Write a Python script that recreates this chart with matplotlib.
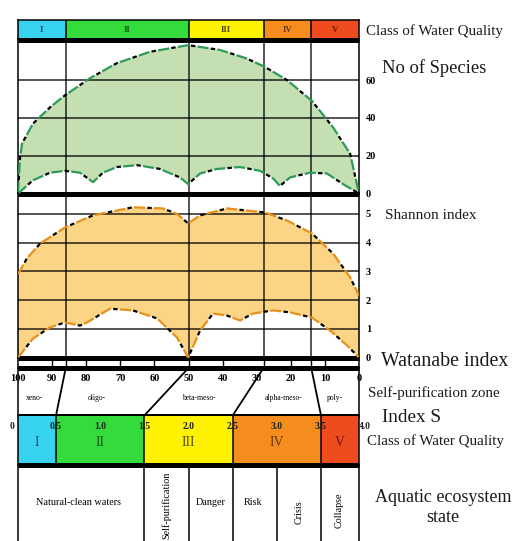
import numpy as np
import matplotlib.pyplot as plt
from matplotlib.patches import ConnectionPatch

plt.rcParams['font.family'] = ['Liberation Serif', 'DejaVu Serif']

# water quality classes
class_names = ['I', 'II', 'III', 'IV', 'V']
class_colors = ['#36d2f0', '#33dc3a', '#fff200', '#f58c1e', '#ee4b1e']
class_text = ['#1d4a6e', '#1c561c', '#55500a', '#6a3a0c', '#6a1a0c']
top_edges = [100, 86, 50, 28, 14, 0]        # self-purification scale
s_edges = [0, 0.5, 1.5, 2.5, 3.5, 4.0]      # index S scale

# No of species (upper / lower envelope)
sp_up_x = [100, 99.4, 98.8, 95.6, 90.6, 86.2, 78.9, 71, 61.3, 50.1, 40.8, 33, 27.6, 21.1, 13.8, 7.6, 2.6, 0]
sp_up_y = [0, 19, 26.5, 37, 45.6, 52, 61, 69, 75, 78.5, 76, 71.5, 67, 60, 49, 35, 21, 0]
sp_lo_x = [100, 95.6, 90.6, 86.2, 81.8, 78, 75.1, 71, 65.1, 58.4, 52.5, 50.1, 46.6, 41.6, 34.9, 29, 25.2,
           23.2, 20.2, 14.4, 9.4, 4.7, 0]
sp_lo_y = [0, 7, 11, 12, 11, 6, 11, 14, 15, 13, 8.5, 5, 10.6, 13, 14, 12, 8, 4, 8.5, 11, 10.6, 5, 0]

# Shannon index (upper / lower envelope)
sh_up_x = [100, 97.4, 93.5, 86.2, 78, 66.3, 57.5, 53.4, 50.1, 46.6, 38.7, 27.6, 21.1, 13.8, 7.6, 2.6, 0]
sh_up_y = [2.9, 3.45, 3.97, 4.53, 4.95, 5.23, 5.19, 5.0, 4.67, 4.95, 5.19, 5.05, 4.77, 4.32, 3.62, 2.79, 2.16]
sh_lo_x = [100, 95.6, 90.6, 86.2, 81.8, 79.8, 73, 66.3, 59.2, 53.4, 50.1, 46.6, 42.8, 38.7, 34.9, 31.1,
           25.2, 20.2, 13.8, 8.5, 3.5, 0]
sh_lo_y = [0, 0.66, 1.05, 1.22, 1.11, 1.22, 1.7, 1.64, 1.36, 0.7, 0, 0.94, 1.53, 1.46, 1.29, 1.53,
           1.64, 1.57, 1.39, 0.94, 0.42, 0]

# self-purification zone
zone_ticks = [100, 90, 80, 70, 60, 50, 40, 30, 20, 10, 0]
wat_ticks = [90, 86, 80, 70, 60, 50, 40, 28, 20, 14, 10]
zone_names = ['xeno-', 'oligo-', 'beta-meso-', 'alpha-meso-', 'poly-']
zone_pos = [95, 77, 47, 22, 7]

# index S labels
s_ticks = [0, 0.5, 1.0, 1.5, 2.0, 2.5, 3.0, 3.5, 4.0]
s_labels = ['0', '0.5', '1.0', '1.5', '2.0', '2.5', '3.0', '3.5', '4.0']
s_lim = (0.07, 3.93)

# aquatic ecosystem state
eco_edges = [1.5, 2.0, 2.5, 3.0, 3.5]
eco_names = ['Natural-clean waters', 'Self-purification', 'Danger', 'Risk', 'Crisis', 'Collapse']
eco_pos = [0.75, 1.75, 2.25, 2.73, 3.25, 3.71]
eco_rot = [0, 90, 0, 0, 90, 90]
eco_y = [0.6, 0.57, 0.6, 0.6, 0.5, 0.52]

W, H = 513, 541
fig = plt.figure(figsize=(W / 100, H / 100), dpi=100)


def rect(top, bottom):
    return [18 / W, 1 - bottom / H, 341 / W, (bottom - top) / H]


def frame(ax, bottom=3.6, top=0):
    ax.set_facecolor('none')  # so the thick lines are not covered by the next panel
    ax.set_xticks([])
    ax.set_yticks([])
    for s in ['left', 'right']:
        ax.spines[s].set_linewidth(1.1)
    ax.spines['bottom'].set_linewidth(bottom)
    ax.spines['bottom'].set_capstyle('butt')
    if top:
        ax.spines['top'].set_linewidth(top)
    else:
        ax.spines['top'].set_visible(False)


def curve(ax, x, y, col):
    ax.plot(x, y, color=col, lw=1.6, ls=(0, (5, 4)), zorder=4)
    ax.plot(x, y, color='k', lw=1.6, ls=(3, (2, 7)), zorder=4)


# top class bar
ax_bar = fig.add_axes(rect(20, 39.5))
for i in range(5):
    ax_bar.axvspan(top_edges[i], top_edges[i + 1], color=class_colors[i], lw=0)
    ax_bar.text((top_edges[i] + top_edges[i + 1]) / 2, 0.5, class_names[i], ha='center', va='center',
                fontsize=6.5, fontweight='bold', color=class_text[i])
for e in top_edges[1:-1]:
    ax_bar.axvline(e, color='k', lw=1.1)
ax_bar.set_xlim(100, 0)
ax_bar.set_ylim(0, 1)
frame(ax_bar, top=1.1)

# No of species
ax_sp = fig.add_axes(rect(39.5, 193.5))
ax_sp.fill(sp_up_x + sp_lo_x[::-1], sp_up_y + sp_lo_y[::-1], color='#c4e0b2', lw=0, zorder=1)
curve(ax_sp, sp_up_x, sp_up_y, '#2e9a58')
curve(ax_sp, sp_lo_x, sp_lo_y, '#2e9a58')
ax_sp.set_xlim(100, 0)
ax_sp.set_ylim(0, 81.5)
frame(ax_sp)
ax_sp.set_yticks([0, 20, 40, 60])
ax_sp.yaxis.grid(True, color='k', lw=1.1, alpha=0.85)
ax_sp.set_axisbelow(False)

# Shannon index
ax_sh = fig.add_axes(rect(193.5, 357.5))
ax_sh.fill(sh_up_x + sh_lo_x[::-1], sh_up_y + sh_lo_y[::-1], color='#fbd486', lw=0, zorder=1)
curve(ax_sh, sh_up_x, sh_up_y, '#e8901c')
curve(ax_sh, sh_lo_x, sh_lo_y, '#e8901c')
ax_sh.set_xlim(100, 0)
ax_sh.set_ylim(0, 5.71)
frame(ax_sh)
ax_sh.set_yticks([0, 1, 2, 3, 4, 5])
ax_sh.yaxis.grid(True, color='k', lw=1.1, alpha=0.85)

for ax in [ax_sp, ax_sh]:
    for e in top_edges[1:-1]:
        ax.axvline(e, color='k', lw=1.1, alpha=0.85, zorder=2)
    ax.yaxis.tick_right()
    ax.tick_params(axis='y', length=0, pad=5, labelsize=7.5)
    for t in ax.get_yticklabels():
        t.set_fontweight('bold')

# Watanabe strip
ax_wat = fig.add_axes(rect(357.5, 368))
for t in wat_ticks:
    ax_wat.axvline(t, color='k', lw=1.0)
ax_wat.set_xlim(100, 0)
frame(ax_wat)

# self-purification zone
ax_zone = fig.add_axes(rect(368, 415.5))
ax_zone.set_xlim(100, 0)
ax_zone.set_ylim(0, 1)
frame(ax_zone)
tr = ax_zone.get_xaxis_transform()
for t in zone_ticks:
    ax_zone.text(t, 0.77, str(t), transform=tr, ha='center', va='center', fontsize=7.5,
                 fontweight='bold', clip_on=False)
for name, p in zip(zone_names, zone_pos):
    ax_zone.text(p, 0.37, name, transform=tr, ha='center', va='center', fontsize=5.5)

# bottom class bar (index S)
ax_cls = fig.add_axes(rect(415.5, 464.5))
for i in range(5):
    lo = max(s_edges[i], s_lim[0])
    hi = min(s_edges[i + 1], s_lim[1])
    ax_cls.axvspan(lo, hi, color=class_colors[i], lw=0)
    ax_cls.text((lo + hi) / 2, 0.44, class_names[i], ha='center', va='center', fontsize=10,
                color=class_text[i])
for e in s_edges[1:-1]:
    ax_cls.axvline(e, color='k', lw=1.1)
for t, lab in zip(s_ticks, s_labels):
    ax_cls.text(t, 0.78, lab, ha='center', va='center', fontsize=7, fontweight='bold',
                color='#222222', clip_on=False)
ax_cls.set_xlim(*s_lim)
ax_cls.set_ylim(0, 1)
frame(ax_cls)

# slanted lines linking the zones to the classes
for a, b in zip(top_edges[1:-1], s_edges[1:-1]):
    con = ConnectionPatch(xyA=(a, 1), coordsA=ax_zone.get_xaxis_transform(),
                          xyB=(b, 1), coordsB=ax_cls.get_xaxis_transform(),
                          color='k', lw=1.3)
    fig.add_artist(con)

# aquatic ecosystem state
ax_eco = fig.add_axes(rect(464.5, 560))
for e in eco_edges:
    ax_eco.axvline(e, color='k', lw=1.1)
for name, p, yy, r in zip(eco_names, eco_pos, eco_y, eco_rot):
    ax_eco.text(p, yy, name, ha='center', va='center', rotation=r, fontsize=7.3)
ax_eco.set_xlim(*s_lim)
ax_eco.set_ylim(0, 1)
frame(ax_eco, bottom=1.1)

# right hand side labels
def label(x, y, s, size, ha='left'):
    fig.text(x / W, 1 - y / H, s, ha=ha, va='center', fontsize=size, color='#1a1a1a')


label(366, 31, 'Class of Water Quality', 10.8)
label(382, 68, 'No of Species', 13.3)
label(385, 216, 'Shannon index', 11)
label(381, 362, 'Watanabe index', 14.3)
label(368, 393, 'Self-purification zone', 10.8)
label(382, 418, 'Index S', 13.8)
label(367, 441, 'Class of Water Quality', 10.8)
label(443, 498, 'Aquatic ecosystem', 13, ha='center')
label(443, 518, 'state', 13, ha='center')

plt.savefig('out.png', dpi=100)
